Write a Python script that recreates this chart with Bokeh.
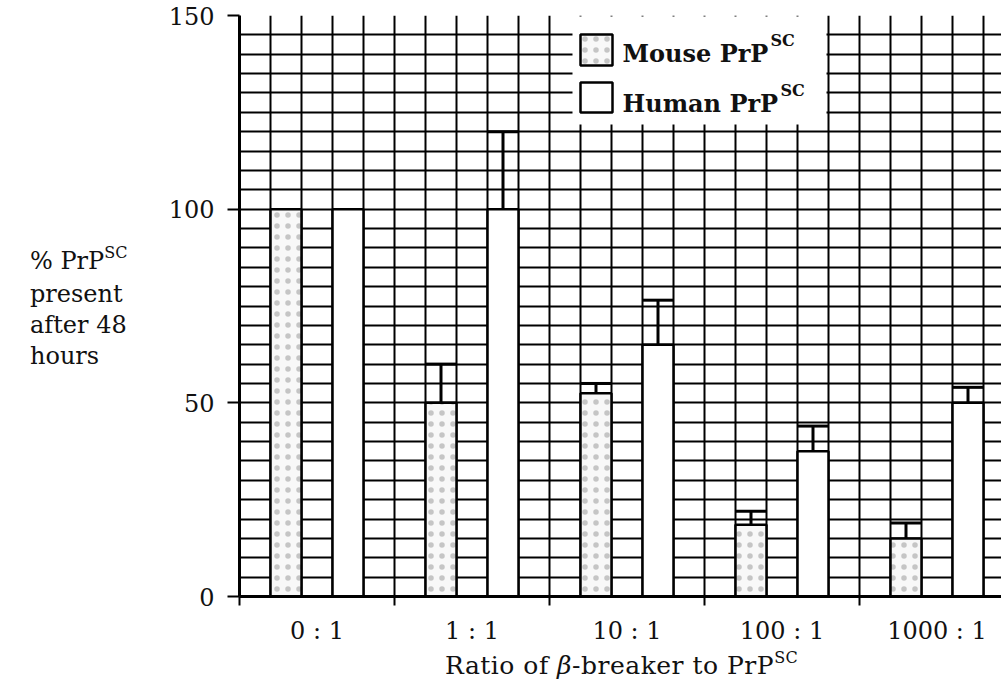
import numpy as np
from bokeh.plotting import figure
from bokeh.models import Range1d, FixedTicker, Label, BoxAnnotation, Div
from bokeh.layouts import row, column
from bokeh.embed import file_html
from bokeh.resources import INLINE

# ---- data ----
categories = ["0 : 1", "1 : 1", "10 : 1", "100 : 1", "1000 : 1"]
mouse = [100, 50, 52.5, 18.5, 15]
mouse_err = [0, 10, 2.5, 3.5, 4]
human = [100, 100, 65, 37.5, 50]
human_err = [0, 20, 11.5, 6.5, 4]
y_ticks = [0, 50, 100, 150]
series_names = ["Mouse PrP", "Human PrP"]

SERIF = "DejaVu Serif"
INK = "#111111"

W, H = 1001, 685
LEFT_DIV = 150                     # width of the y-title column
FL, FT, FB = 239, 15, 597          # frame left / top / bottom in window px
PH = 647                           # figure height
cat_px = 155.0
x_end = (W - FL) / cat_px

p = figure(width=W - LEFT_DIV, height=PH, output_backend="svg", toolbar_location=None,
           x_range=Range1d(0, x_end), y_range=Range1d(0, 150),
           min_border_left=FL - LEFT_DIV, min_border_right=0, min_border_top=FT,
           min_border_bottom=PH - FB, margin=(0, 0, 0, 0))
p.outline_line_color = None
p.background_fill_color = "white"
p.border_fill_color = "white"

# grids: every 5 units vertically, every 1/5 category horizontally
p.ygrid.ticker = FixedTicker(ticks=list(np.arange(0, 151, 5)))
p.xgrid.ticker = FixedTicker(ticks=list(np.round(np.arange(0, 5.01, 0.2), 3)))
for g in (p.xgrid, p.ygrid):
    g.grid_line_color = "black"
    g.grid_line_width = 2

# bars
n = len(categories)
idx = np.arange(n)
xm = idx + 0.3
xh = idx + 0.7
bw = 0.2
MOUSE_FILL = dict(fill_color="#f8f8f8", hatch_pattern="dot", hatch_scale=11,
                  hatch_color="#9a9a9a", hatch_weight=1, hatch_alpha=0.55)
p.vbar(x=xm, top=mouse, width=bw, bottom=0, line_color="black", line_width=2.5, **MOUSE_FILL)
p.vbar(x=xh, top=human, width=bw, bottom=0, fill_color="white",
       line_color="black", line_width=2.5)

# error bars (upper only)
for xs, vals, errs in ((xm, mouse, mouse_err), (xh, human, human_err)):
    xs_e = [x for x, e in zip(xs, errs) if e > 0]
    lo = [v for v, e in zip(vals, errs) if e > 0]
    hi = [v + e for v, e in zip(vals, errs) if e > 0]
    p.segment(x0=xs_e, y0=lo, x1=xs_e, y1=hi, line_color="black", line_width=3)
    p.segment(x0=[x - bw / 2 for x in xs_e], y0=hi, x1=[x + bw / 2 for x in xs_e], y1=hi,
              line_color="black", line_width=3)

# axes
p.xaxis.ticker = FixedTicker(ticks=list(idx + 0.5), minor_ticks=list(idx.astype(float)))
p.xaxis.major_label_overrides = {float(i + 0.5): c for i, c in enumerate(categories)}
p.xaxis.major_tick_out = 0
p.xaxis.major_tick_in = 0
p.xaxis.minor_tick_out = 9
p.xaxis.minor_tick_in = 0
p.xaxis.minor_tick_line_width = 2
p.xaxis.minor_tick_line_color = "black"
p.xaxis.major_label_standoff = 11
p.xaxis.axis_line_width = 3
p.xaxis.axis_line_color = "black"

p.yaxis.ticker = FixedTicker(ticks=y_ticks, minor_ticks=[])
p.yaxis.major_tick_out = 12
p.yaxis.major_tick_in = 0
p.yaxis.major_tick_line_width = 2
p.yaxis.major_tick_line_color = "black"
p.yaxis.major_label_standoff = 13
p.yaxis.axis_line_width = 3
p.yaxis.axis_line_color = "black"

for ax in (p.xaxis, p.yaxis):
    ax.major_label_text_font = SERIF
    ax.major_label_text_font_size = "24px"
    ax.major_label_text_color = INK


def sx(x):
    return x - FL


def sy(y):
    return FB - y


def lab(x, y, text, size="24px", style="normal", align="left"):
    p.add_layout(Label(x=sx(x), y=sy(y), x_units="screen", y_units="screen", text=text,
                       text_font=SERIF, text_font_size=size, text_font_style=style,
                       text_color=INK, text_align=align, text_baseline="alphabetic"))


def box(l, r, t, b, **kw):
    p.add_layout(BoxAnnotation(left=sx(l), right=sx(r), top=sy(t), bottom=sy(b),
                               left_units="screen", right_units="screen",
                               top_units="screen", bottom_units="screen",
                               fill_alpha=1, level="annotation", **kw))


# legend (inside the frame)
box(572, 826, 17, 125, fill_color="white", line_color=None)
box(580, 612, 35, 66, line_color="black", line_width=2.5, line_alpha=1, **MOUSE_FILL)
box(580, 612, 83, 113, fill_color="white", line_color="black", line_width=2.5, line_alpha=1)
lab(622, 54, series_names[0], style="bold")
lab(770, 41, "SC", size="16px", style="bold")
lab(622, 104, series_names[1], style="bold")
lab(780, 91, "SC", size="16px", style="bold")

SUP = "font-size:16px; position:relative; top:-11px;"
ylab = Div(width=LEFT_DIV, height=H, margin=(0, 0, 0, 0),
           text=(f'<div style="font-family:\'{SERIF}\'; font-size:24px; color:{INK}; '
                 f'line-height:31px; padding-top:246px; padding-left:30px; white-space:nowrap;">'
                 f'% PrP<span style="{SUP}">SC</span><br>present<br>after 48<br>hours</div>'))

xlab = Div(width=W - LEFT_DIV, height=H - PH, margin=(0, 0, 0, 0),
           text=(f'<div style="font-family:\'{SERIF}\'; font-size:25px; letter-spacing:0.5px; '
                 f'color:{INK}; line-height:28px; padding-top:5px; '
                 f'padding-left:{445 - LEFT_DIV}px; white-space:nowrap;">'
                 f'Ratio of <i>β</i>-breaker to PrP<span style="{SUP}">SC</span></div>'))

layout = row(ylab, column(p, xlab, spacing=0), spacing=0)

open("out.html", "w").write(file_html(layout, INLINE))
